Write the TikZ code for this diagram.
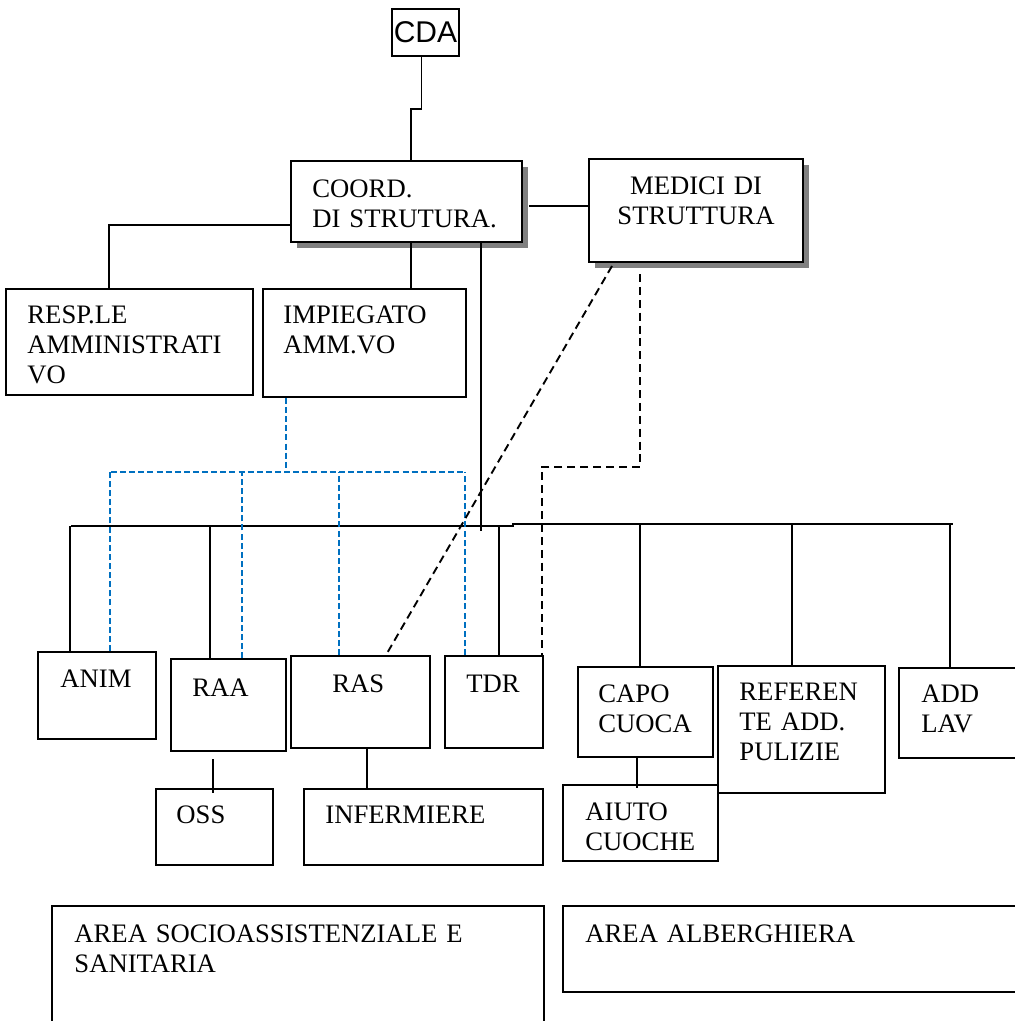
\documentclass[tikz,border=0pt]{standalone}
\usepackage{fontspec}
\setmainfont{Liberation Serif}
\newfontfamily\arialfont{Liberation Sans}
\usetikzlibrary{fit,calc,shadows}
\definecolor{wordblue}{RGB}{0,112,192}

\begin{document}
\begin{tikzpicture}[x=0.45pt, y=-0.45pt,
            box/.style = {draw, line width=0.9pt, inner sep=0pt, fill=white},
            shadowed/.style = {drop shadow={shadow xshift=2.7pt, shadow yshift=-2.7pt,
                                fill=black!50, opacity=1}},
            txt/.style = {inner sep=0pt, anchor=base west, align=left, text width=200pt,
                                font=\fontsize{12}{13.6}\selectfont},
            link/.style = {line width=0.85pt},
            bluelink/.style = {wordblue, line width=0.85pt, dash pattern=on 2.7pt off 1.4pt},
            dashlink/.style = {line width=0.85pt, dash pattern=on 3.6pt off 2.2pt}]
    \clip (0,0) rectangle (1015,1021);

    % boxes
    \node[box, minimum width=30.15pt, minimum height=21.15pt,
          font=\arialfont\fontsize{13.5}{15}\selectfont] (cda) at (425.5,32.5) {CDA};
    \node[box, shadowed, fit={(291,161)(522,242)}] (coord) {};
    \node[box, shadowed, fit={(589,159)(803,262)}] (medici) {};
    \node[box, fit={(6,289)(253,395)}] (resp) {};
    \node[box, fit={(263,289)(466,397)}] (impieg) {};
    \node[box, fit={(38,652)(156,739)}] (anim) {};
    \node[box, fit={(171,659)(286,751)}] (raa) {};
    \node[box, fit={(291,656)(430,748)}] (ras) {};
    \node[box, fit={(445,656)(543,748)}] (tdr) {};
    \node[box, fit={(156,789)(273,865)}] (oss) {};
    \node[box, fit={(304,789)(543,865)}] (inf) {};
    \node[box, fit={(578,667)(713,757)}] (capo) {};
    \node[box, fit={(563,785)(718,861)}] (aiuto) {};
    \node[box, fit={(718,666)(885,793)}] (refer) {};
    \node[box, fit={(899,668)(1030,758)}] (add) {};
    \node[box, fit={(52,906)(544,1040)}] (areasan) {};
    \node[box, fit={(563,906)(1030,992)}] (areaalb) {};

    % texts
    \node[txt] (coordtxt) at (312,197) {COORD.\\DI STRUTURA.};
    \node[txt, anchor=base, align=center] (medicitxt) at (696,194) {MEDICI DI\\STRUTTURA};
    \node[txt] (resptxt) at (27,323) {RESP.LE\\AMMINISTRATI\\VO};
    \node[txt] (impiegtxt) at (283,323) {IMPIEGATO\\AMM.VO};
    \node[txt] (animtxt) at (60,687) {ANIM};
    \node[txt] (raatxt) at (192,696) {RAA};
    \node[txt] (rastxt) at (332,692) {RAS};
    \node[txt] (tdrtxt) at (466,692) {TDR};
    \node[txt] (osstxt) at (176,823) {OSS};
    \node[txt] (inftxt) at (325,823) {INFERMIERE};
    \node[txt] (capotxt) at (598,702) {CAPO\\CUOCA};
    \node[txt] (aiutotxt) at (585,820) {AIUTO\\CUOCHE};
    \node[txt] (refertxt) at (739,700) {REFEREN\\TE ADD.\\PULIZIE};
    \node[txt] (addtxt) at (921,702) {ADD\\LAV};
    \node[txt] (areasantxt) at (74,942) {AREA SOCIOASSISTENZIALE E\\SANITARIA};
    \node[txt] (areaalbtxt) at (585,942) {AREA ALBERGHIERA};

    % solid links
    \draw[link] ($(cda.south)+(-4,0)$) -- ++(0,52) -| ($(coord.north west)+(121,0)$);
    \draw[link] ($(coord.north east)+(6,46)$) -- ($(medici.north west)+(0,48)$);
    \draw[link] ($(coord.south west)+(0,-18)$) -| ($(resp.north west)+(104,0)$);
    \draw[link] ($(coord.south west)+(121,0)$) -- ($(impieg.north west)+(149,0)$);
    \draw[link] ($(coord.south west)+(191,0)$) -- ($(coord.south west)+(191,288)$);
    \coordinate (busl) at (71,526);
    \coordinate (busm) at (513,526);
    \coordinate (busr) at (953,524);
    \draw[link] (busl) -- (busm) -- (busm |- busr) -- (busr);
    \foreach \n/\dx/\b in {anim/33/busl, raa/40/busl, tdr/55/busl, capo/63/busr, refer/75/busr, add/52/busr}
        \draw[link] (\n.north west) ++(\dx,0) coordinate (tmp) -- (tmp |- \b);
    \draw[link] ($(raa.south west)+(43,7)$) -- ($(oss.north west)+(58,5)$);
    \draw[link] ($(ras.south west)+(77,0)$) -- ($(inf.north west)+(64,0)$);
    \draw[link] ($(capo.south west)+(60,0)$) -- ($(aiuto.north west)+(75,4)$);

    % blue dashed links
    \coordinate (bluel) at (111,472);
    \coordinate (bluer) at (466,472);
    \draw[bluelink] (bluel) -- (bluer);
    \draw[bluelink] ($(impieg.south west)+(24,0)$) coordinate (tmp) -- (tmp |- bluel);
    \foreach \n/\dx in {anim/73, raa/72, ras/49, tdr/21}
        \draw[bluelink] (\n.north west) ++(\dx,0) coordinate (tmp) -- (tmp |- bluel);

    % black dashed links
    \draw[dashlink] ($(medici.south west)+(24,3)$) -- ($(ras.north west)+(96,0)$);
    \draw[dashlink] ($(medici.south west)+(52,11)$) -- ++(0,193) -| ($(tdr.north east)+(-2,0)$);
\end{tikzpicture}
\end{document}
